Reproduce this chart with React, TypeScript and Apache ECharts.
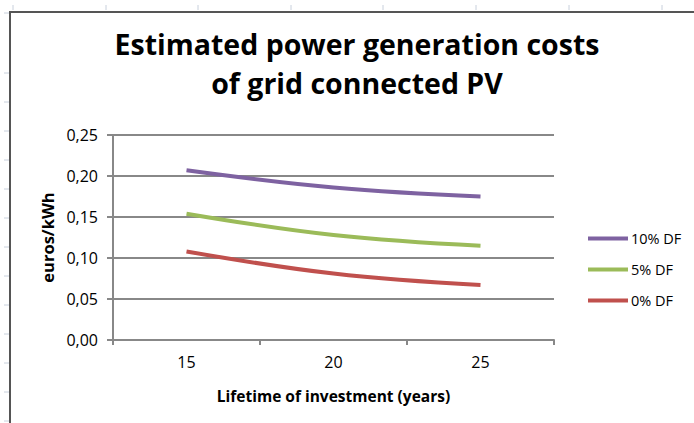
import React, { useEffect, useRef } from "react";
import * as echarts from "echarts";

const categories = ["15", "20", "25"];
const seriesNames = ["10% DF", "5% DF", "0% DF"];
const df10 = [0.207, 0.186, 0.175];
const df5 = [0.154, 0.128, 0.115];
const df0 = [0.108, 0.081, 0.067];
const colors = ["#7E62A1", "#9BBB59", "#C0504D"];
const titleLines = ["Estimated power generation costs", "of grid connected PV"];
const yName = "euros/kWh";
const xName = "Lifetime of investment (years)";

const FONT = "'Open Sans', Lato, sans-serif";

export default function App() {
  const ref = useRef<HTMLDivElement>(null);
  useEffect(() => {
    if (!ref.current) return;
    const chart = echarts.init(ref.current, undefined, { renderer: "svg" });
    const values = [df10, df5, df0];
    const sheetRowsY = [13, 73, 102, 131, 160, 189, 218, 247, 276, 305, 334, 363, 392, 421];
    const sheetColsX = [13, 106, 198, 291, 383, 476, 569, 662];
    const graphics: any[] = [];
    sheetRowsY.forEach((y) =>
      graphics.push({ type: "line", shape: { x1: 4, y1: y, x2: 9, y2: y }, style: { stroke: "#C8D0DC", lineWidth: 1 }, silent: true })
    );
    sheetColsX.forEach((x) =>
      graphics.push({ type: "line", shape: { x1: x, y1: 5, x2: x, y2: 10 }, style: { stroke: "#C8D0DC", lineWidth: 1 }, silent: true })
    );
    graphics.push({
      type: "polyline",
      shape: { points: [[10, 423], [10, 12], [694, 12]] },
      style: { stroke: "#555555", lineWidth: 2, fill: "none" },
      silent: true,
    });
    chart.setOption({
      animation: false,
      backgroundColor: "#ffffff",
      textStyle: { fontFamily: FONT },
      title: {
        text: titleLines.join("\n"),
        left: 352,
        top: 19,
        textAlign: "center",
        textStyle: { fontFamily: FONT, fontWeight: "bold", fontSize: 28.5, lineHeight: 39, color: "#000" },
      },
      graphic: graphics,
      grid: { left: 113, right: 140, top: 135, bottom: 83 },
      legend: {
        orient: "vertical",
        left: 583,
        top: 226,
        itemWidth: 40,
        itemHeight: 4,
        itemGap: 16,
        icon: "rect",
        data: seriesNames,
        textStyle: { fontFamily: FONT, fontSize: 14.5, color: "#000", padding: [0, 0, 0, -2] },
      },
      xAxis: {
        type: "category",
        data: categories,
        boundaryGap: true,
        name: xName,
        nameLocation: "middle",
        nameGap: 48,
        nameTextStyle: { fontFamily: FONT, fontWeight: "bold", fontSize: 15.5, color: "#000" },
        axisLine: { lineStyle: { color: "#888888", width: 2 } },
        axisTick: { show: true, length: 5, lineStyle: { color: "#888888", width: 2 } },
        axisLabel: { fontFamily: FONT, fontSize: 16, color: "#000", margin: 14 },
      },
      yAxis: {
        type: "value",
        min: 0,
        max: 0.25,
        interval: 0.05,
        name: yName,
        nameLocation: "middle",
        nameGap: 57,
        nameRotate: 90,
        nameTextStyle: { fontFamily: FONT, fontWeight: "bold", fontSize: 16.5, color: "#000" },
        axisLine: { show: true, lineStyle: { color: "#888888", width: 2 } },
        axisTick: { show: true, length: 6, lineStyle: { color: "#888888", width: 2 } },
        splitLine: { lineStyle: { color: "#888888", width: 2 } },
        axisLabel: {
          fontFamily: FONT,
          fontSize: 16,
          color: "#000",
          margin: 15,
          formatter: (v: number) => v.toFixed(2).replace(".", ","),
        },
      },
      series: seriesNames.map((name, i) => ({
        name,
        type: "line",
        data: values[i],
        smooth: 0.4,
        symbol: "none",
        lineStyle: { color: colors[i], width: 4 },
        itemStyle: { color: colors[i] },
      })),
    });
    return () => chart.dispose();
  }, []);
  return (
    <div
      ref={ref}
      style={{ position: "fixed", left: 0, top: 0, width: 694, height: 423 }}
    />
  );
}
